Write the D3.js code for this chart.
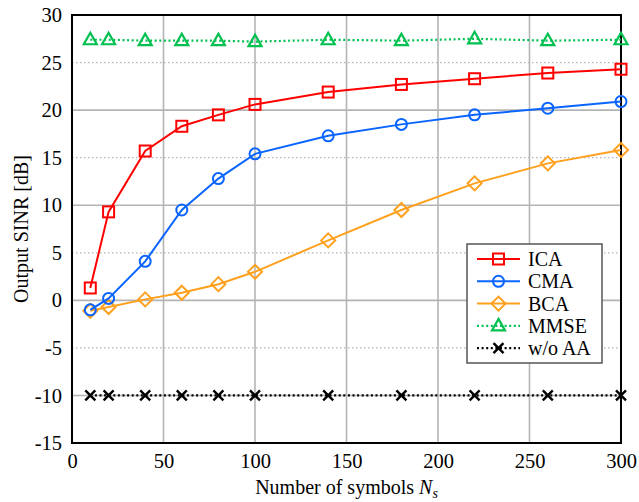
<!DOCTYPE html>
<html>
<head>
<meta charset="utf-8">
<script src="https://d3js.org/d3.v7.min.js"></script>
<style>
  body { margin: 0; background: #fff; }
  svg, svg text { font-family: 'Liberation Serif', 'Times New Roman', serif; }
</style>
</head>
<body>
<div id="vis-container"></div>
<script>
// symbols axis and SINR values per method
const symbols = [10, 20, 40, 60, 80, 100, 140, 180, 220, 260, 300];
const icaValues = [1.3, 9.3, 15.7, 18.3, 19.5, 20.6, 21.9, 22.7, 23.3, 23.9, 24.3];
const cmaValues = [-1.0, 0.2, 4.1, 9.5, 12.8, 15.4, 17.3, 18.5, 19.5, 20.2, 20.9];
const bcaValues = [-1.1, -0.7, 0.1, 0.8, 1.7, 3.0, 6.3, 9.5, 12.3, 14.4, 15.8];
const mmseValues = [27.4, 27.4, 27.3, 27.3, 27.3, 27.2, 27.4, 27.3, 27.5, 27.3, 27.4];
const woaaValues = [-10, -10, -10, -10, -10, -10, -10, -10, -10, -10, -10];
const seriesNames = ["ICA", "CMA", "BCA", "MMSE", "w/o AA"];
const xTicks = [0, 50, 100, 150, 200, 250, 300];
const yTicks = [-15, -10, -5, 0, 5, 10, 15, 20, 25, 30];

const series = [
  { name: seriesNames[0], values: icaValues, color: "#ff0000", marker: "square", dotted: false },
  { name: seriesNames[1], values: cmaValues, color: "#0a64ff", marker: "circle", dotted: false },
  { name: seriesNames[2], values: bcaValues, color: "#ffa01e", marker: "diamond", dotted: false },
  { name: seriesNames[3], values: mmseValues, color: "#00c050", marker: "triangle", dotted: true },
  { name: seriesNames[4], values: woaaValues, color: "#000000", marker: "cross", dotted: true }
];

const width = 639, height = 502;
const margin = { left: 72, right: 18, top: 15, bottom: 59 };
const serif = "'Liberation Serif', 'Times New Roman', serif";

const svg = d3.select("#vis-container").append("svg")
  .attr("width", width)
  .attr("height", height);

const x = d3.scaleLinear().domain([0, 300]).range([margin.left, width - margin.right]);
const y = d3.scaleLinear().domain([-15, 30]).range([height - margin.bottom, margin.top]);

// grid
const grid = svg.append("g");
xTicks.filter(d => d > 0 && d < 300).forEach(d => {
  grid.append("line")
    .attr("x1", x(d)).attr("x2", x(d))
    .attr("y1", y(-15)).attr("y2", y(30))
    .attr("stroke", "#b4b4b4").attr("stroke-width", 1.6);
});
yTicks.filter(d => d > -15 && d < 30).forEach(d => {
  const major = d % 10 === 0;
  grid.append("line")
    .attr("x1", x(0)).attr("x2", x(300))
    .attr("y1", y(d)).attr("y2", y(d))
    .attr("stroke", "#b4b4b4")
    .attr("stroke-width", major ? 1.6 : 1.3)
    .attr("stroke-dasharray", major ? null : "1.5,2.5");
});

// axes (labels only)
const xAxis = svg.append("g")
  .attr("transform", `translate(0,${y(-15)})`)
  .call(d3.axisBottom(x).tickValues(xTicks).tickSize(0).tickPadding(10).tickFormat(d => String(d)));
const yAxis = svg.append("g")
  .attr("transform", `translate(${x(0)},0)`)
  .call(d3.axisLeft(y).tickValues(yTicks).tickSize(0).tickPadding(10).tickFormat(d => String(d)));
[xAxis, yAxis].forEach(a => {
  a.attr("font-family", serif).attr("font-size", 20.5);
  a.select(".domain").remove();
  a.selectAll("text").attr("fill", "#000");
});

// frame
svg.append("rect")
  .attr("x", x(0)).attr("y", y(30))
  .attr("width", x(300) - x(0)).attr("height", y(-15) - y(30))
  .attr("fill", "none").attr("stroke", "#000").attr("stroke-width", 2);

// marker drawing
function drawMarker(g, type, cx, cy, color) {
  if (type === "square") {
    g.append("rect").attr("x", cx - 5.5).attr("y", cy - 5.5).attr("width", 11).attr("height", 11)
      .attr("fill", "none").attr("stroke", color).attr("stroke-width", 2);
  } else if (type === "circle") {
    g.append("circle").attr("cx", cx).attr("cy", cy).attr("r", 5.5)
      .attr("fill", "none").attr("stroke", color).attr("stroke-width", 2);
  } else if (type === "diamond") {
    g.append("path").attr("d", `M${cx},${cy - 7}L${cx + 7},${cy}L${cx},${cy + 7}L${cx - 7},${cy}Z`)
      .attr("fill", "none").attr("stroke", color).attr("stroke-width", 2);
  } else if (type === "triangle") {
    g.append("path").attr("d", `M${cx},${cy - 7}L${cx + 6.5},${cy + 4.5}L${cx - 6.5},${cy + 4.5}Z`)
      .attr("fill", "none").attr("stroke", color).attr("stroke-width", 2.2);
  } else if (type === "cross") {
    g.append("path").attr("d", `M${cx - 5},${cy - 5}L${cx + 5},${cy + 5}M${cx - 5},${cy + 5}L${cx + 5},${cy - 5}`)
      .attr("fill", "none").attr("stroke", color).attr("stroke-width", 2.4);
  }
}

const line = d3.line().x(d => x(d[0])).y(d => y(d[1]));

// draw in reverse so ICA ends on top
series.slice().reverse().forEach(s => {
  const pts = symbols.map((sx, i) => [sx, s.values[i]]);
  const g = svg.append("g");
  g.append("path")
    .attr("d", line(pts))
    .attr("fill", "none")
    .attr("stroke", s.color)
    .attr("stroke-width", s.dotted ? 2.2 : 2)
    .attr("stroke-dasharray", s.dotted ? "2,2.6" : null);
  pts.forEach(p => drawMarker(g, s.marker, x(p[0]), y(p[1]), s.color));
});

// legend
const lg = svg.append("g").attr("transform", "translate(467,244)");
lg.append("rect").attr("width", 135).attr("height", 119)
  .attr("fill", "#fff").attr("stroke", "#555").attr("stroke-width", 1.5);
series.forEach((s, i) => {
  const ly = 15 + i * 22.3;
  lg.append("line").attr("x1", 10).attr("x2", 53).attr("y1", ly).attr("y2", ly)
    .attr("stroke", s.color).attr("stroke-width", s.dotted ? 2.2 : 2)
    .attr("stroke-dasharray", s.dotted ? "2,2.6" : null);
  drawMarker(lg, s.marker, 31.5, ly, s.color);
  lg.append("text").attr("x", 61).attr("y", ly).attr("dy", "0.35em")
    .attr("font-family", serif).attr("font-size", 20).attr("fill", "#000").text(s.name);
});

// axis titles
const xt = svg.append("text")
  .attr("x", (x(0) + x(300)) / 2).attr("y", 494)
  .attr("text-anchor", "middle").attr("font-family", serif).attr("font-size", 20).attr("fill", "#000");
xt.append("tspan").text("Number of symbols ");
xt.append("tspan").attr("font-style", "italic").text("N");
xt.append("tspan").attr("font-style", "italic").attr("font-size", 14).attr("dy", 4).text("s");

svg.append("text")
  .attr("transform", `translate(28,${(y(-15) + y(30)) / 2}) rotate(-90)`)
  .attr("text-anchor", "middle").attr("font-family", serif).attr("font-size", 20).attr("fill", "#000")
  .text("Output SINR [dB]");
</script>
</body>
</html>
